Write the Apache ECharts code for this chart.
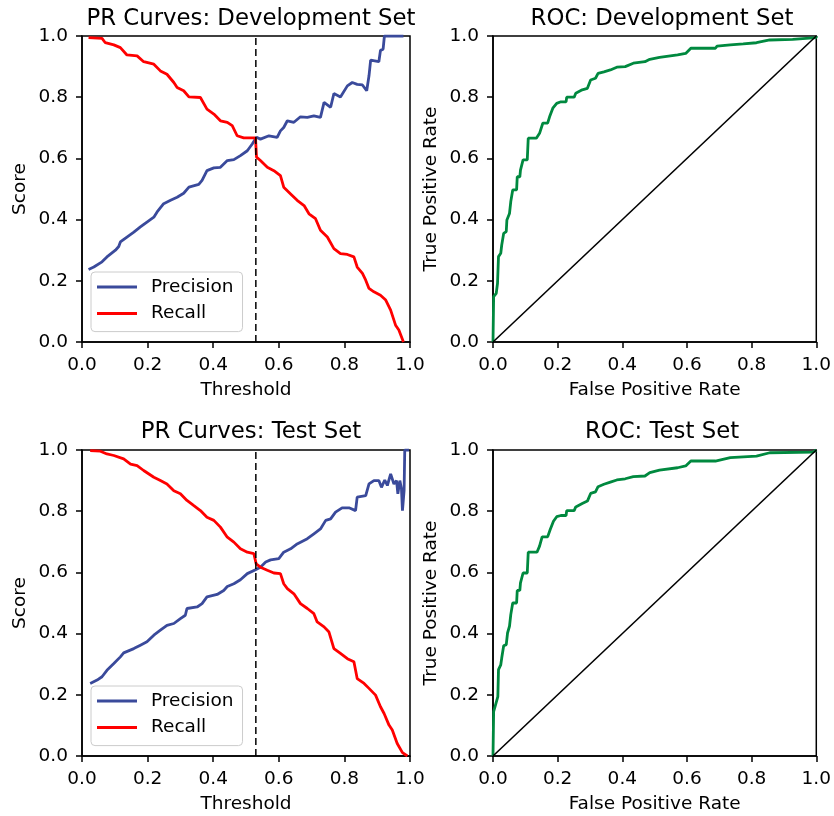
<!DOCTYPE html>
<html>
<head>
<meta charset="utf-8">
<script src="https://cdn.jsdelivr.net/npm/echarts@6/dist/echarts.min.js"></script>
<style>
html,body{margin:0;padding:0;background:#fff;}
#chart{width:834px;height:816px;}
</style>
</head>
<body>
<div id="chart"></div>
<script>
// ---------- data ----------
const titles = ['PR Curves: Development Set', 'ROC: Development Set', 'PR Curves: Test Set', 'ROC: Test Set'];
const thresholdLine = 0.53;

const devPrecThr = [0.02,0.036,0.061,0.076,0.102,0.112,0.117,0.137,0.158,0.178,0.198,0.219,0.229,0.249,0.27,0.29,0.31,0.326,0.356,0.366,0.381,0.402,0.422,0.443,0.463,0.483,0.504,0.519,0.532,0.544,0.57,0.595,0.605,0.615,0.626,0.646,0.666,0.687,0.707,0.727,0.738,0.758,0.768,0.788,0.809,0.824,0.839,0.855,0.868,0.875,0.88,0.905,0.91,0.918,0.922,0.98];
const devPrecVal = [0.237,0.245,0.262,0.278,0.300,0.312,0.327,0.343,0.359,0.376,0.392,0.408,0.425,0.452,0.463,0.473,0.486,0.506,0.515,0.528,0.56,0.569,0.571,0.593,0.596,0.609,0.625,0.647,0.669,0.663,0.674,0.669,0.69,0.701,0.723,0.718,0.736,0.734,0.739,0.734,0.783,0.767,0.812,0.801,0.837,0.848,0.842,0.840,0.821,0.87,0.921,0.916,0.953,0.957,1.0,1.0];

const devRecThr = [0.02,0.061,0.071,0.097,0.117,0.137,0.168,0.188,0.219,0.239,0.259,0.28,0.29,0.31,0.326,0.361,0.381,0.402,0.422,0.443,0.458,0.473,0.493,0.529,0.532,0.544,0.565,0.585,0.605,0.615,0.636,0.656,0.677,0.692,0.712,0.727,0.748,0.768,0.788,0.809,0.829,0.839,0.855,0.865,0.875,0.89,0.91,0.926,0.941,0.956,0.966,0.98];
const devRecVal = [0.995,0.992,0.978,0.971,0.962,0.938,0.935,0.916,0.908,0.886,0.875,0.848,0.832,0.821,0.801,0.799,0.761,0.745,0.723,0.718,0.707,0.674,0.667,0.667,0.604,0.593,0.571,0.56,0.544,0.506,0.484,0.463,0.446,0.419,0.403,0.365,0.343,0.305,0.289,0.286,0.278,0.245,0.224,0.202,0.175,0.164,0.153,0.137,0.104,0.055,0.039,0.0];

const testPrecThr = [0.025,0.046,0.061,0.076,0.097,0.117,0.127,0.158,0.178,0.198,0.219,0.239,0.259,0.28,0.3,0.315,0.32,0.351,0.366,0.381,0.412,0.432,0.443,0.463,0.483,0.504,0.529,0.544,0.56,0.575,0.6,0.615,0.636,0.656,0.687,0.707,0.727,0.743,0.758,0.773,0.793,0.814,0.834,0.839,0.865,0.875,0.89,0.905,0.913,0.923,0.931,0.941,0.951,0.959,0.963,0.969,0.974,0.977,0.982,0.984,0.997];
const testPrecVal = [0.237,0.248,0.259,0.28,0.302,0.324,0.337,0.351,0.362,0.373,0.395,0.411,0.427,0.433,0.449,0.46,0.482,0.487,0.498,0.52,0.528,0.541,0.554,0.563,0.576,0.596,0.609,0.617,0.634,0.641,0.645,0.666,0.677,0.693,0.71,0.726,0.742,0.77,0.775,0.797,0.811,0.811,0.802,0.846,0.851,0.889,0.9,0.9,0.878,0.902,0.884,0.922,0.889,0.9,0.857,0.9,0.873,0.802,0.867,1.0,1.0];

const testRecThr = [0.025,0.056,0.076,0.097,0.127,0.148,0.168,0.188,0.219,0.239,0.259,0.28,0.3,0.32,0.341,0.361,0.381,0.402,0.422,0.443,0.463,0.483,0.504,0.524,0.531,0.544,0.565,0.585,0.605,0.615,0.626,0.646,0.666,0.687,0.707,0.717,0.738,0.753,0.768,0.788,0.809,0.829,0.839,0.86,0.875,0.895,0.91,0.921,0.936,0.946,0.961,0.977,0.992];
const testRecVal = [0.998,0.996,0.987,0.982,0.971,0.954,0.949,0.933,0.911,0.9,0.889,0.867,0.857,0.835,0.818,0.802,0.78,0.77,0.748,0.715,0.699,0.677,0.666,0.661,0.628,0.617,0.607,0.598,0.596,0.563,0.547,0.53,0.498,0.482,0.465,0.438,0.422,0.405,0.351,0.335,0.318,0.308,0.253,0.237,0.221,0.199,0.161,0.139,0.101,0.085,0.041,0.011,0.0];

const rocDevFpr = [0,0.002,0.01,0.014,0.017,0.024,0.027,0.033,0.041,0.043,0.051,0.055,0.061,0.073,0.075,0.083,0.085,0.093,0.106,0.109,0.134,0.144,0.154,0.169,0.175,0.185,0.197,0.21,0.226,0.228,0.251,0.256,0.276,0.292,0.302,0.317,0.325,0.343,0.363,0.383,0.409,0.434,0.47,0.485,0.515,0.571,0.596,0.612,0.688,0.693,0.734,0.774,0.815,0.856,0.927,1.0,1.0];
const rocDevTpr = [0,0.148,0.159,0.192,0.279,0.29,0.317,0.355,0.361,0.399,0.42,0.459,0.497,0.497,0.54,0.54,0.562,0.595,0.595,0.666,0.666,0.682,0.715,0.715,0.736,0.764,0.78,0.785,0.785,0.8,0.8,0.813,0.824,0.829,0.856,0.862,0.878,0.883,0.889,0.898,0.9,0.911,0.916,0.924,0.93,0.938,0.943,0.96,0.96,0.967,0.971,0.974,0.978,0.987,0.989,0.995,1.0];

const rocTestFpr = [0,0.002,0.01,0.015,0.017,0.024,0.027,0.033,0.041,0.045,0.051,0.055,0.061,0.073,0.075,0.083,0.085,0.093,0.106,0.109,0.136,0.144,0.152,0.169,0.177,0.187,0.197,0.21,0.226,0.228,0.251,0.256,0.276,0.292,0.302,0.317,0.325,0.343,0.363,0.383,0.409,0.434,0.47,0.485,0.515,0.571,0.596,0.612,0.688,0.693,0.734,0.815,0.856,0.99,1.0];
const rocTestTpr = [0,0.145,0.175,0.194,0.282,0.298,0.32,0.36,0.364,0.402,0.424,0.462,0.5,0.5,0.541,0.541,0.566,0.598,0.598,0.666,0.666,0.686,0.716,0.716,0.74,0.767,0.782,0.786,0.786,0.802,0.802,0.814,0.825,0.833,0.858,0.863,0.88,0.888,0.895,0.902,0.906,0.913,0.915,0.926,0.934,0.942,0.948,0.964,0.964,0.969,0.975,0.98,0.991,0.993,1.0];

const chanceX = [0, 1];
const chanceY = [0, 1];

// ---------- chart ----------
const FONT = 'DejaVu Sans';
const BLUE = '#3a4a9b', RED = '#ff0000', GREEN = '#00893f';
const zip = (a, b) => a.map((v, i) => [v, b[i]]);

const grids = [
  {left: 82, top: 36, width: 328, height: 306},
  {left: 493, top: 36, width: 328, height: 306},
  {left: 82, top: 450, width: 328, height: 306},
  {left: 493, top: 450, width: 328, height: 306}
].map(g => Object.assign(g, {show: true, borderColor: '#000', borderWidth: 1.5, backgroundColor: 'transparent'}));

const xNames = ['Threshold', 'False Positive Rate', 'Threshold', 'False Positive Rate'];
const yNames = ['Score', 'True Positive Rate', 'Score', 'True Positive Rate'];

function axis(i, name, isX) {
  return {
    type: 'value', gridIndex: i, min: 0, max: 1, interval: 0.2,
    name: name, nameLocation: 'middle', nameGap: isX ? 39 : 52,
    nameTextStyle: {fontFamily: FONT, fontSize: 18.5, color: '#000'},
    axisLine: {show: true, onZero: false, lineStyle: {color: '#000', width: 1.5}},
    axisTick: {show: true, inside: false, length: 6, lineStyle: {color: '#000', width: 1.5}},
    axisLabel: {fontFamily: FONT, fontSize: 18.5, color: '#000', margin: isX ? 14 : 14,
      formatter: v => v.toFixed(1)},
    splitLine: {show: false}
  };
}

const xAxis = xNames.map((n, i) => axis(i, n, true));
const yAxis = yNames.map((n, i) => axis(i, n, false));

const title = titles.map((t, i) => ({
  text: t,
  left: (i % 2 === 0 ? 246 : 657),
  top: i < 2 ? 3 : 416,
  textAlign: 'center',
  textStyle: {fontFamily: FONT, fontSize: 22.8, fontWeight: 'normal', color: '#000'}
}));

function legendAt(top) {
  return {
    data: ['Precision', 'Recall'],
    orient: 'vertical', left: 91, top: top,
    icon: 'rect', itemWidth: 40, itemHeight: 3, itemGap: 6.6,
    padding: [5, 9, 8, 6],
    backgroundColor: 'rgba(255,255,255,0.8)', borderColor: '#cccccc', borderWidth: 1, borderRadius: 4,
    selectedMode: false,
    textStyle: {fontFamily: FONT, fontSize: 18.5, color: '#000', lineHeight: 20, padding: [0, 0, 0, 9]}
  };
}

function lineSeries(name, data, i, color, width, extra) {
  return Object.assign({
    type: 'line', name: name, xAxisIndex: i, yAxisIndex: i, data: data,
    showSymbol: false, symbol: 'none', animation: false, clip: true,
    lineStyle: {color: color, width: width}, itemStyle: {color: color}
  }, extra || {});
}

const series = [
  lineSeries('Precision', zip(devPrecThr, devPrecVal), 0, BLUE, 2.8),
  lineSeries('Recall', zip(devRecThr, devRecVal), 0, RED, 2.8),
  lineSeries('cut-dev', [[thresholdLine, 0], [thresholdLine, 1]], 0, '#000', 1.5, {lineStyle: {color: '#000', width: 1.5, type: [7, 4]}}),
  lineSeries('ROC-dev', zip(rocDevFpr, rocDevTpr), 1, GREEN, 2.8),
  lineSeries('chance-dev', zip(chanceX, chanceY), 1, '#000', 1.6),
  lineSeries('Precision', zip(testPrecThr, testPrecVal), 2, BLUE, 2.8),
  lineSeries('Recall', zip(testRecThr, testRecVal), 2, RED, 2.8),
  lineSeries('cut-test', [[thresholdLine, 0], [thresholdLine, 1]], 2, '#000', 1.5, {lineStyle: {color: '#000', width: 1.5, type: [7, 4]}}),
  lineSeries('ROC-test', zip(rocTestFpr, rocTestTpr), 3, GREEN, 2.8),
  lineSeries('chance-test', zip(chanceX, chanceY), 3, '#000', 1.6)
];

const chart = echarts.init(document.getElementById('chart'), null, {renderer: 'canvas'});
chart.setOption({
  backgroundColor: '#fff',
  animation: false,
  title: title,
  grid: grids,
  xAxis: xAxis,
  yAxis: yAxis,
  legend: [legendAt(272), legendAt(686)],
  series: series
});
</script>
</body>
</html>
